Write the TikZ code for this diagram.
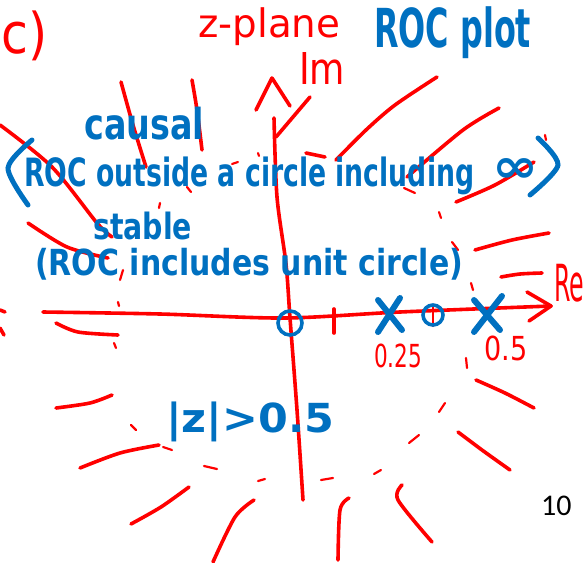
\documentclass[tikz,border=0pt]{standalone}
\usepackage{fontspec}
\setmainfont{DejaVu Sans}
\newfontfamily\pagefont{Carlito}
\definecolor{ink}{RGB}{255,0,0}
\definecolor{pen}{RGB}{0,112,192}
\tikzset{
  stroke/.style={draw=ink, line width=3.6pt, line cap=round, line join=round},
  fine/.style={draw=ink, line width=2.2pt, line cap=round},
  redtxt/.style={text=ink, inner sep=0pt, anchor=west},
  bluetxt/.style={text=pen, inner sep=0pt, anchor=west, font=\bfseries},
  polemark/.style={draw=pen, line width=6pt, line cap=round},
  ring/.style={draw=pen, line width=3.6pt},
  bigparen/.style={draw=pen, line width=5pt, line cap=round},
}
% scale a text to a given width and total height
\newcommand{\fitbox}[3]{\resizebox*{#1pt}{#2pt}{#3}}
\begin{document}
\begin{tikzpicture}[x=1pt,y=-1pt]
\useasboundingbox (0,0) rectangle (586,562);

% ---- headings ----
\node[redtxt] (part) at (1,36) {\fitbox{46}{50}{c)}};
\node[redtxt] (plane) at (198,27) {\fitbox{142}{38}{z-plane}};
\node[redtxt] (imlab) at (299,68) {\fitbox{46}{32}{Im}};
\node[bluetxt] (roc) at (374,33) {\fitbox{157}{52}{ROC plot}};

% ---- rays around the plane ----
\draw[stroke] plot[smooth] coordinates {(121,82) (133,125) (146,167)};
\draw[stroke] plot[smooth] coordinates {(192,80) (197,110) (202,150)};
\draw[stroke] plot[smooth] coordinates {(437,77) (395,105) (366,130) (336,160)};
\draw[stroke] plot[smooth] coordinates {(499,108) (463,130) (407,177)};
\draw[stroke] plot[smooth] coordinates {(534,162) (495,185) (456,202)};
\draw[stroke] plot[smooth] coordinates {(0,125) (52,167) (97,223) (112,237)};
\draw[stroke] plot[smooth] coordinates {(28,223) (67,247) (108,258)};
\draw[stroke] plot[smooth] coordinates {(475,250) (512,240) (549,233)};
\draw[stroke] plot[smooth] coordinates {(501,277) (520,274) (542,273)};
\draw[stroke] plot[smooth] coordinates {(56,323) (78,332) (118,335)};
\draw[stroke] plot[smooth] coordinates {(56,408) (90,403) (112,395)};
\draw[stroke] plot[smooth] coordinates {(80,468) (120,453) (159,445)};
\draw[stroke] plot[smooth] coordinates {(476,380) (505,393) (534,408)};
\draw[stroke] plot[smooth] coordinates {(458,432) (482,450) (510,470)};
\draw[stroke] plot[smooth] coordinates {(131,524) (161,507) (189,487)};
\draw[stroke] plot[smooth] coordinates {(213,562) (235,517) (254,500)};
\draw[stroke] plot[smooth] coordinates {(349,498) (340,510) (338,560)};
\draw[stroke] plot[smooth] coordinates {(402,485) (398,500) (432,542)};
\draw[stroke] (0,310) -- (5,312);
\draw[stroke] (0,328) -- (4,335);

% short dashes
\draw[fine] (258,153) -- (259,156);
\draw[fine] (232,164) -- (238,162);
\draw[fine] (187,187) -- (191,192);
\draw[stroke] (306,153) -- (325,157);
\draw[fine] (404,188) -- (415,193);
\draw[fine] (439,212) -- (441,218);
\draw[fine] (160,203) -- (159,208);
\draw[fine] (452,242) -- (458,250);
\draw[fine] (123,270) -- (120,280);
\draw[fine] (118,302) -- (119,306);
\draw[fine] (114,343) -- (116,348);
\draw[fine] (471,283) -- (473,290);
\draw[fine] (466,358) -- (467,368);
\draw[fine] (545,135) -- (546,140);
\draw[fine] (131,425) -- (136,430);
\draw[fine] (163,447) -- (172,450);
\draw[fine] (204,466) -- (217,469);
\draw[fine] (258,481) -- (265,479);
\draw[fine] (321,480) -- (333,478);
\draw[fine] (374,474) -- (381,470);
\draw[fine] (409,443) -- (419,435);
\draw[fine] (439,412) -- (445,403);

% ---- axes ----
\coordinate (imtop) at (274,118);
\coordinate (imbot) at (303,500);
\coordinate (releft) at (43,312);
\coordinate (retip) at (551,306);
\draw[stroke] plot[smooth] coordinates {(imtop) (277,197) (286,264) (290,318) (297,410) (imbot)};
\draw[stroke] (256,110) -- (272,78) -- (290,106);
\draw[stroke] (276,137) -- (310,97);
\draw[stroke] plot[smooth] coordinates {(releft) (160,314) (284,318) (400,312) (retip)};
\draw[stroke] (527,292) -- (retip) -- (529,321);
\node[redtxt] (relab) at (554,283) {\fitbox{30}{38}{Re}};
\draw[stroke] (334,309) -- (334,333);
\draw[fine] (433,305) -- (433,326);

% ---- zeros and poles ----
\draw[ring] (290,323) circle [radius=12];
\draw[ring] (433,315) circle [radius=10];
\draw[polemark] (378,300) -- (402,330) (400,298) -- (378,332);
\draw[polemark] (474,300) -- (500,330) (502,296) -- (474,332);
\node[redtxt] (pa) at (374,356) {\fitbox{48}{24}{0.25}};
\node[redtxt] (pb) at (484,348) {\fitbox{43}{25}{0.5}};

% ---- notes ----
\node[bluetxt] (causal) at (84,124) {\fitbox{120}{33}{causal}};
\draw[bigparen] plot[smooth] coordinates {(32,140) (8,168) (28,205)};
\node[bluetxt] (outside) at (24,176) {\fitbox{450}{38}{ROC outside a circle including}};
\node[bluetxt] (infty) at (492,170) {\fitbox{46}{24}{∞}};
\draw[bigparen] plot[smooth] coordinates {(538,138) (558,165) (530,195)};
\node[bluetxt] (stable) at (93,226) {\fitbox{99}{28}{stable}};
\node[bluetxt] (unit) at (35,264) {\fitbox{428}{32}{(ROC includes unit circle)}};
\node[bluetxt] (roczone) at (166,422) {\fitbox{168}{40}{|z|>0.5}};

\node[inner sep=0pt, anchor=west] (pagenum) at (541,506) {\pagefont\fontsize{30}{30}\selectfont 10};
\end{tikzpicture}
\end{document}
